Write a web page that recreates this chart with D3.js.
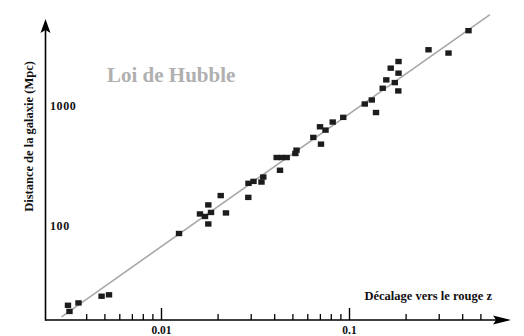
<!DOCTYPE html>
<html>
<head>
<meta charset="utf-8">
<script src="https://cdn.jsdelivr.net/npm/d3@7"></script>
<style>
  body { margin: 0; background: #fff; }
  svg { display: block; }
  text { font-family: "Liberation Serif", "DejaVu Serif", serif; }
</style>
</head>
<body>
<svg width="524" height="336"></svg>
<script>
// galaxies : redshift z and distance (Mpc)
const redshift = [0.0032, 0.00326, 0.00364, 0.00483, 0.00529,
  0.01247, 0.01612, 0.01714, 0.01785, 0.01845, 0.01785, 0.02078, 0.02216,
  0.02913, 0.0292, 0.03105, 0.03424, 0.035, 0.04295, 0.04124, 0.04385, 0.04662,
  0.05183, 0.05259, 0.0646, 0.07096, 0.07011, 0.075, 0.0819, 0.0932,
  0.1213, 0.1322, 0.1392, 0.1511, 0.1579, 0.1752, 0.1829, 0.1667, 0.1834, 0.1834,
  0.2648, 0.3383, 0.4321]
const distance = [21.5, 19.1, 22.5, 25.6, 26.3,
  85.7, 124.9, 119, 148.7, 128.6, 103, 178, 127.4,
  171.9, 225.4, 234, 231, 254.6, 289.8, 370.7, 370.7, 370.7,
  400.4, 426.9, 545.8, 479.4, 670, 628.5, 734, 803.6,
  1039, 1123, 881.8, 1408, 1654, 1570, 1337, 2074, 1883, 2356,
  2955, 2773, 4269]

// the fitted line (two ends)
const fitZ = [0.00296, 0.562]
const fitD = [17.2, 5818]

const majorX = [0.01, 0.1]
const minorX = [0.004, 0.005, 0.006, 0.007, 0.008, 0.009,
  0.02, 0.03, 0.04, 0.05, 0.06, 0.07, 0.08, 0.09,
  0.2, 0.3, 0.4, 0.5]
const labelsY = [100, 1000]

const svg = d3.select('svg')

const x = d3.scaleLog().domain([0.01, 0.1]).range([161, 349])
const y = d3.scaleLog().domain([100, 1000]).range([225.5, 106])

const ox = 45.5, oy = 320

// hubble line
svg.append('path')
    .datum(d3.zip(fitZ, fitD))
    .attr('d', d3.line().x(d => x(d[0])).y(d => y(d[1])))
    .attr('stroke', '#a8a8a8')
    .attr('stroke-width', 1.6)
    .attr('fill', 'none')

// points
svg.append('g').selectAll('rect')
    .data(d3.zip(redshift, distance))
    .enter().append('rect')
        .attr('x', d => x(d[0]) - 3.2)
        .attr('y', d => y(d[1]) - 2.7)
        .attr('width', 6.4)
        .attr('height', 5.4)
        .attr('fill', '#1c1c1c')

// x axis ticks (pointing up) and labels
const axMajor = d3.axisBottom(x)
    .tickValues(majorX)
    .tickFormat(d3.format('~g'))
    .tickSizeInner(-12)
    .tickSizeOuter(0)
    .tickPadding(14)

const gMaj = svg.append('g')
    .attr('transform', `translate(0,${oy})`)
    .call(axMajor)
gMaj.select('.domain').remove()
gMaj.selectAll('line').attr('stroke', '#000').attr('stroke-width', 1.4)
gMaj.selectAll('text')
    .attr('font-family', '"Liberation Serif", serif')
    .attr('font-size', 11.5)
    .attr('font-weight', 'bold')
    .attr('fill', '#111')
    .attr('dy', 0)

const gMin = svg.append('g')
    .attr('transform', `translate(0,${oy})`)
    .call(d3.axisBottom(x).tickValues(minorX).tickFormat('').tickSizeInner(-6).tickSizeOuter(0))
gMin.select('.domain').remove()
gMin.selectAll('line').attr('stroke', '#000').attr('stroke-width', 1.3)

// axis lines with arrows
svg.append('line')
    .attr('x1', ox).attr('y1', oy).attr('x2', 508).attr('y2', oy)
    .attr('stroke', '#000').attr('stroke-width', 1.6)
svg.append('line')
    .attr('x1', ox).attr('y1', oy + 0.8).attr('x2', ox).attr('y2', 24)
    .attr('stroke', '#000').attr('stroke-width', 1.6)

svg.append('path')
    .attr('d', `M511,${oy} L493,${oy - 4.5} L496,${oy} L493,${oy + 4.5} Z`)
    .attr('fill', '#000')
svg.append('path')
    .attr('d', `M${ox},19 L${ox - 5},33 L${ox},30 L${ox + 5},33 Z`)
    .attr('fill', '#000')

// y labels (no ticks)
svg.append('g').selectAll('text')
    .data(labelsY)
    .enter().append('text')
        .attr('x', ox + 4.5)
        .attr('y', d => y(d))
        .attr('dy', '0.35em')
        .attr('font-size', 12)
        .attr('font-weight', 'bold')
        .attr('letter-spacing', 0.6)
        .attr('fill', '#111')
        .text(d => d)

// titles
svg.append('text')
    .attr('x', 107)
    .attr('y', 82)
    .attr('font-size', 21)
    .attr('font-weight', 'bold')
    .attr('fill', '#b0b0b0')
    .text('Loi de Hubble')

svg.append('text')
    .attr('x', 492)
    .attr('y', 300)
    .attr('text-anchor', 'end')
    .attr('font-size', 12.5)
    .attr('font-weight', 'bold')
    .attr('fill', '#111')
    .text('Décalage vers le rouge z')

svg.append('text')
    .attr('transform', 'translate(33,136.5) rotate(-90)')
    .attr('text-anchor', 'middle')
    .attr('font-size', 12.5)
    .attr('font-weight', 'bold')
    .attr('fill', '#111')
    .text('Distance de la galaxie (Mpc)')
</script>
</body>
</html>
